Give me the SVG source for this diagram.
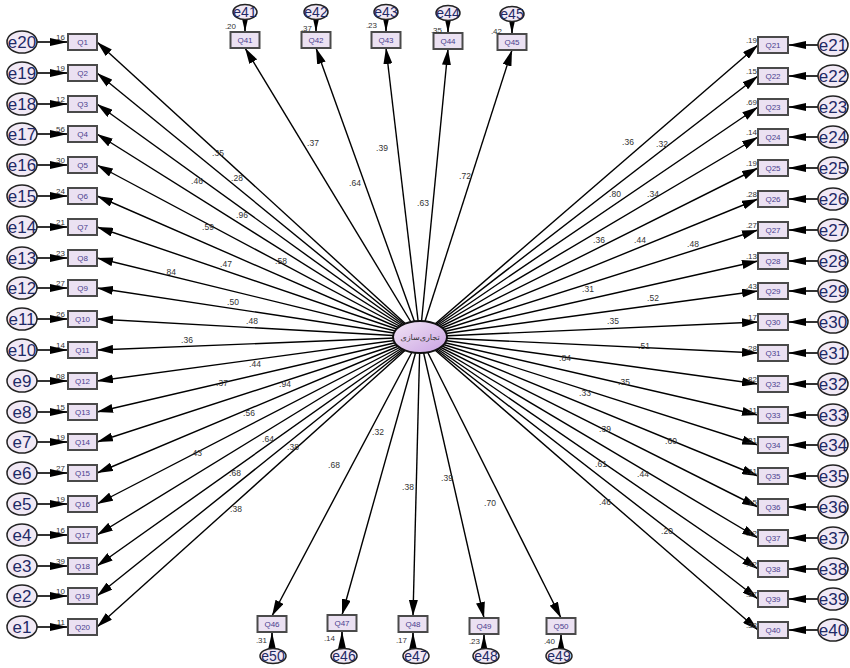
<svg xmlns="http://www.w3.org/2000/svg" width="850" height="668" viewBox="0 0 850 668">
<style>
.q{fill:#ebe1f2;stroke:#4a4a4a;stroke-width:2}
.qt{font-family:"Liberation Sans",Arial,sans-serif;font-size:8px;fill:#4a3f8f;text-anchor:middle}
.e{fill:#f1e9f5;stroke:#222;stroke-width:1.5}
.et{font-family:"Liberation Sans",Arial,sans-serif;font-size:17px;fill:#1f2a66;text-anchor:middle}
.ets{font-family:"Liberation Sans",Arial,sans-serif;font-size:14px;fill:#1f2a66;text-anchor:middle}
.c{stroke:#000;stroke-width:1.4;fill:none;marker-end:url(#ah)}
.ec{stroke:#000;stroke-width:1.6;fill:none;marker-end:url(#ah2)}
.l{font-family:"Liberation Sans",Arial,sans-serif;font-size:8.5px;fill:#333;text-anchor:middle}
.v{font-family:"Liberation Sans",Arial,sans-serif;font-size:8px;fill:#333;text-anchor:end}
</style>
<defs>
<marker id="ah" markerWidth="16" markerHeight="9" refX="16" refY="4.5" orient="auto" markerUnits="userSpaceOnUse"><path d="M0,0 L16,4.5 L0,9 Z" fill="#000"/></marker>
<marker id="ah2" markerWidth="18" markerHeight="8" refX="18" refY="4" orient="auto" markerUnits="userSpaceOnUse"><path d="M0,0 L18,4 L0,8 Z" fill="#000"/></marker>
<linearGradient id="cg" x1="0" y1="0" x2="1" y2="1"><stop offset="0" stop-color="#f3e6f5"/><stop offset="1" stop-color="#c9a2e3"/></linearGradient>
</defs>
<rect width="850" height="668" fill="#fff"/>
<g id="connectors">
<line class="c" x1="420" y1="337" x2="97" y2="42"/>
<line class="c" x1="420" y1="337" x2="97" y2="73"/>
<line class="c" x1="420" y1="337" x2="97" y2="104"/>
<line class="c" x1="420" y1="337" x2="97" y2="134"/>
<line class="c" x1="420" y1="337" x2="97" y2="165"/>
<line class="c" x1="420" y1="337" x2="97" y2="196"/>
<line class="c" x1="420" y1="337" x2="97" y2="227"/>
<line class="c" x1="420" y1="337" x2="97" y2="258"/>
<line class="c" x1="420" y1="337" x2="97" y2="288"/>
<line class="c" x1="420" y1="337" x2="97" y2="319"/>
<line class="c" x1="420" y1="337" x2="97" y2="350"/>
<line class="c" x1="420" y1="337" x2="97" y2="381"/>
<line class="c" x1="420" y1="337" x2="97" y2="412"/>
<line class="c" x1="420" y1="337" x2="97" y2="442"/>
<line class="c" x1="420" y1="337" x2="97" y2="473"/>
<line class="c" x1="420" y1="337" x2="97" y2="504"/>
<line class="c" x1="420" y1="337" x2="97" y2="535"/>
<line class="c" x1="420" y1="337" x2="97" y2="566"/>
<line class="c" x1="420" y1="337" x2="97" y2="596"/>
<line class="c" x1="420" y1="337" x2="97" y2="627"/>
<line class="c" x1="420" y1="337" x2="758" y2="45"/>
<line class="c" x1="420" y1="337" x2="758" y2="76"/>
<line class="c" x1="420" y1="337" x2="758" y2="107"/>
<line class="c" x1="420" y1="337" x2="758" y2="137"/>
<line class="c" x1="420" y1="337" x2="758" y2="168"/>
<line class="c" x1="420" y1="337" x2="758" y2="199"/>
<line class="c" x1="420" y1="337" x2="758" y2="230"/>
<line class="c" x1="420" y1="337" x2="758" y2="261"/>
<line class="c" x1="420" y1="337" x2="758" y2="291"/>
<line class="c" x1="420" y1="337" x2="758" y2="322"/>
<line class="c" x1="420" y1="337" x2="758" y2="353"/>
<line class="c" x1="420" y1="337" x2="758" y2="384"/>
<line class="c" x1="420" y1="337" x2="758" y2="415"/>
<line class="c" x1="420" y1="337" x2="758" y2="445"/>
<line class="c" x1="420" y1="337" x2="758" y2="476"/>
<line class="c" x1="420" y1="337" x2="758" y2="507"/>
<line class="c" x1="420" y1="337" x2="758" y2="538"/>
<line class="c" x1="420" y1="337" x2="758" y2="569"/>
<line class="c" x1="420" y1="337" x2="758" y2="599"/>
<line class="c" x1="420" y1="337" x2="758" y2="630"/>
<line class="c" x1="420" y1="337" x2="245" y2="48"/>
<line class="c" x1="420" y1="337" x2="316" y2="48"/>
<line class="c" x1="420" y1="337" x2="386" y2="48"/>
<line class="c" x1="420" y1="337" x2="448" y2="49"/>
<line class="c" x1="420" y1="337" x2="512" y2="50"/>
<line class="c" x1="420" y1="337" x2="272" y2="616"/>
<line class="c" x1="420" y1="337" x2="342" y2="615"/>
<line class="c" x1="420" y1="337" x2="413" y2="616"/>
<line class="c" x1="420" y1="337" x2="484" y2="618"/>
<line class="c" x1="420" y1="337" x2="561" y2="618"/>
<line class="ec" x1="37" y1="42" x2="68" y2="42"/>
<line class="ec" x1="37" y1="73" x2="68" y2="73"/>
<line class="ec" x1="37" y1="104" x2="68" y2="104"/>
<line class="ec" x1="37" y1="134" x2="68" y2="134"/>
<line class="ec" x1="37" y1="165" x2="68" y2="165"/>
<line class="ec" x1="37" y1="196" x2="68" y2="196"/>
<line class="ec" x1="37" y1="227" x2="68" y2="227"/>
<line class="ec" x1="37" y1="258" x2="68" y2="258"/>
<line class="ec" x1="37" y1="288" x2="68" y2="288"/>
<line class="ec" x1="37" y1="319" x2="68" y2="319"/>
<line class="ec" x1="37" y1="350" x2="68" y2="350"/>
<line class="ec" x1="37" y1="381" x2="68" y2="381"/>
<line class="ec" x1="37" y1="412" x2="68" y2="412"/>
<line class="ec" x1="37" y1="442" x2="68" y2="442"/>
<line class="ec" x1="37" y1="473" x2="68" y2="473"/>
<line class="ec" x1="37" y1="504" x2="68" y2="504"/>
<line class="ec" x1="37" y1="535" x2="68" y2="535"/>
<line class="ec" x1="37" y1="566" x2="68" y2="566"/>
<line class="ec" x1="37" y1="596" x2="68" y2="596"/>
<line class="ec" x1="37" y1="627" x2="68" y2="627"/>
<line class="ec" x1="818" y1="45" x2="788" y2="45"/>
<line class="ec" x1="818" y1="76" x2="788" y2="76"/>
<line class="ec" x1="818" y1="107" x2="788" y2="107"/>
<line class="ec" x1="818" y1="137" x2="788" y2="137"/>
<line class="ec" x1="818" y1="168" x2="788" y2="168"/>
<line class="ec" x1="818" y1="199" x2="788" y2="199"/>
<line class="ec" x1="818" y1="230" x2="788" y2="230"/>
<line class="ec" x1="818" y1="261" x2="788" y2="261"/>
<line class="ec" x1="818" y1="291" x2="788" y2="291"/>
<line class="ec" x1="818" y1="322" x2="788" y2="322"/>
<line class="ec" x1="818" y1="353" x2="788" y2="353"/>
<line class="ec" x1="818" y1="384" x2="788" y2="384"/>
<line class="ec" x1="818" y1="415" x2="788" y2="415"/>
<line class="ec" x1="818" y1="445" x2="788" y2="445"/>
<line class="ec" x1="818" y1="476" x2="788" y2="476"/>
<line class="ec" x1="818" y1="507" x2="788" y2="507"/>
<line class="ec" x1="818" y1="538" x2="788" y2="538"/>
<line class="ec" x1="818" y1="569" x2="788" y2="569"/>
<line class="ec" x1="818" y1="599" x2="788" y2="599"/>
<line class="ec" x1="818" y1="630" x2="788" y2="630"/>
<line class="ec" x1="245" y1="19" x2="245" y2="32"/>
<line class="ec" x1="316" y1="19" x2="316" y2="32"/>
<line class="ec" x1="386" y1="19" x2="386" y2="32"/>
<line class="ec" x1="448" y1="20" x2="448" y2="33"/>
<line class="ec" x1="512" y1="21" x2="512" y2="34"/>
<line class="ec" x1="272" y1="649" x2="272" y2="632"/>
<line class="ec" x1="342" y1="649" x2="342" y2="631"/>
<line class="ec" x1="413" y1="649" x2="413" y2="632"/>
<line class="ec" x1="484" y1="649" x2="484" y2="634"/>
<line class="ec" x1="561" y1="649" x2="561" y2="634"/>
</g>
<g id="path-labels">
<text class="l" x="218" y="156">.35</text>
<text class="l" x="237" y="181">.28</text>
<text class="l" x="197" y="184">.46</text>
<text class="l" x="242" y="218">.96</text>
<text class="l" x="208" y="230">.59</text>
<text class="l" x="226" y="267">.47</text>
<text class="l" x="281" y="264">.58</text>
<text class="l" x="170" y="275">.84</text>
<text class="l" x="233" y="305">.50</text>
<text class="l" x="252" y="324">.48</text>
<text class="l" x="187" y="343">.36</text>
<text class="l" x="255" y="367">.44</text>
<text class="l" x="222" y="386">.37</text>
<text class="l" x="285" y="387">.94</text>
<text class="l" x="249" y="416">.56</text>
<text class="l" x="268" y="442">.64</text>
<text class="l" x="293" y="450">.38</text>
<text class="l" x="196" y="456">.43</text>
<text class="l" x="235" y="476">.68</text>
<text class="l" x="334" y="468">.68</text>
<text class="l" x="236" y="512">.38</text>
<text class="l" x="378" y="435">.32</text>
<text class="l" x="408" y="490">.38</text>
<text class="l" x="447" y="481">.39</text>
<text class="l" x="490" y="506">.70</text>
<text class="l" x="313" y="146">.37</text>
<text class="l" x="355" y="186">.64</text>
<text class="l" x="382" y="151">.39</text>
<text class="l" x="423" y="206">.63</text>
<text class="l" x="465" y="179">.72</text>
<text class="l" x="628" y="145">.36</text>
<text class="l" x="662" y="147">.32</text>
<text class="l" x="615" y="197">.80</text>
<text class="l" x="653" y="197">.34</text>
<text class="l" x="599" y="243">.36</text>
<text class="l" x="640" y="243">.44</text>
<text class="l" x="693" y="247">.48</text>
<text class="l" x="588" y="292">.31</text>
<text class="l" x="653" y="301">.52</text>
<text class="l" x="613" y="324">.35</text>
<text class="l" x="644" y="349">.51</text>
<text class="l" x="565" y="361">.84</text>
<text class="l" x="624" y="385">.35</text>
<text class="l" x="585" y="396">.33</text>
<text class="l" x="605" y="432">.39</text>
<text class="l" x="671" y="444">.60</text>
<text class="l" x="601" y="467">.61</text>
<text class="l" x="643" y="477">.44</text>
<text class="l" x="605" y="505">.46</text>
<text class="l" x="667" y="534">.20</text>
</g>
<g id="center"><ellipse cx="420" cy="337" rx="27" ry="16" fill="url(#cg)" stroke="#111" stroke-width="2"/><text x="420" y="340" font-family="'DejaVu Sans',sans-serif" font-size="8" fill="#333" text-anchor="middle">تجاری‌سازی</text></g>
<g id="Q1"><rect class="q" x="68" y="34" width="29" height="16"/><text class="qt" x="82.5" y="45">Q1</text><text class="v" x="65" y="40">.16</text></g>
<g id="Q2"><rect class="q" x="68" y="65" width="29" height="16"/><text class="qt" x="82.5" y="76">Q2</text><text class="v" x="65" y="71">.19</text></g>
<g id="Q3"><rect class="q" x="68" y="96" width="29" height="16"/><text class="qt" x="82.5" y="107">Q3</text><text class="v" x="65" y="102">.12</text></g>
<g id="Q4"><rect class="q" x="68" y="126" width="29" height="16"/><text class="qt" x="82.5" y="137">Q4</text><text class="v" x="65" y="132">.56</text></g>
<g id="Q5"><rect class="q" x="68" y="157" width="29" height="16"/><text class="qt" x="82.5" y="168">Q5</text><text class="v" x="65" y="163">.30</text></g>
<g id="Q6"><rect class="q" x="68" y="188" width="29" height="16"/><text class="qt" x="82.5" y="199">Q6</text><text class="v" x="65" y="194">.24</text></g>
<g id="Q7"><rect class="q" x="68" y="219" width="29" height="16"/><text class="qt" x="82.5" y="230">Q7</text><text class="v" x="65" y="225">.21</text></g>
<g id="Q8"><rect class="q" x="68" y="250" width="29" height="16"/><text class="qt" x="82.5" y="261">Q8</text><text class="v" x="65" y="256">.23</text></g>
<g id="Q9"><rect class="q" x="68" y="280" width="29" height="16"/><text class="qt" x="82.5" y="291">Q9</text><text class="v" x="65" y="286">.27</text></g>
<g id="Q10"><rect class="q" x="68" y="311" width="29" height="16"/><text class="qt" x="82.5" y="322">Q10</text><text class="v" x="65" y="317">.26</text></g>
<g id="Q11"><rect class="q" x="68" y="342" width="29" height="16"/><text class="qt" x="82.5" y="353">Q11</text><text class="v" x="65" y="348">.14</text></g>
<g id="Q12"><rect class="q" x="68" y="373" width="29" height="16"/><text class="qt" x="82.5" y="384">Q12</text><text class="v" x="65" y="379">.08</text></g>
<g id="Q13"><rect class="q" x="68" y="404" width="29" height="16"/><text class="qt" x="82.5" y="415">Q13</text><text class="v" x="65" y="410">.15</text></g>
<g id="Q14"><rect class="q" x="68" y="434" width="29" height="16"/><text class="qt" x="82.5" y="445">Q14</text><text class="v" x="65" y="440">.19</text></g>
<g id="Q15"><rect class="q" x="68" y="465" width="29" height="16"/><text class="qt" x="82.5" y="476">Q15</text><text class="v" x="65" y="471">.27</text></g>
<g id="Q16"><rect class="q" x="68" y="496" width="29" height="16"/><text class="qt" x="82.5" y="507">Q16</text><text class="v" x="65" y="502">.19</text></g>
<g id="Q17"><rect class="q" x="68" y="527" width="29" height="16"/><text class="qt" x="82.5" y="538">Q17</text><text class="v" x="65" y="533">.16</text></g>
<g id="Q18"><rect class="q" x="68" y="558" width="29" height="16"/><text class="qt" x="82.5" y="569">Q18</text><text class="v" x="65" y="564">.39</text></g>
<g id="Q19"><rect class="q" x="68" y="588" width="29" height="16"/><text class="qt" x="82.5" y="599">Q19</text><text class="v" x="65" y="594">.10</text></g>
<g id="Q20"><rect class="q" x="68" y="619" width="29" height="16"/><text class="qt" x="82.5" y="630">Q20</text><text class="v" x="65" y="625">.11</text></g>
<g id="Q21"><rect class="q" x="758" y="37" width="30" height="16"/><text class="qt" x="773" y="48">Q21</text><text class="v" x="757" y="43">.19</text></g>
<g id="Q22"><rect class="q" x="758" y="68" width="30" height="16"/><text class="qt" x="773" y="79">Q22</text><text class="v" x="757" y="74">.15</text></g>
<g id="Q23"><rect class="q" x="758" y="99" width="30" height="16"/><text class="qt" x="773" y="110">Q23</text><text class="v" x="757" y="105">.69</text></g>
<g id="Q24"><rect class="q" x="758" y="129" width="30" height="16"/><text class="qt" x="773" y="140">Q24</text><text class="v" x="757" y="135">.14</text></g>
<g id="Q25"><rect class="q" x="758" y="160" width="30" height="16"/><text class="qt" x="773" y="171">Q25</text><text class="v" x="757" y="166">.19</text></g>
<g id="Q26"><rect class="q" x="758" y="191" width="30" height="16"/><text class="qt" x="773" y="202">Q26</text><text class="v" x="757" y="197">.28</text></g>
<g id="Q27"><rect class="q" x="758" y="222" width="30" height="16"/><text class="qt" x="773" y="233">Q27</text><text class="v" x="757" y="228">.27</text></g>
<g id="Q28"><rect class="q" x="758" y="253" width="30" height="16"/><text class="qt" x="773" y="264">Q28</text><text class="v" x="757" y="259">.13</text></g>
<g id="Q29"><rect class="q" x="758" y="283" width="30" height="16"/><text class="qt" x="773" y="294">Q29</text><text class="v" x="757" y="289">.43</text></g>
<g id="Q30"><rect class="q" x="758" y="314" width="30" height="16"/><text class="qt" x="773" y="325">Q30</text><text class="v" x="757" y="320">.17</text></g>
<g id="Q31"><rect class="q" x="758" y="345" width="30" height="16"/><text class="qt" x="773" y="356">Q31</text><text class="v" x="757" y="351">.28</text></g>
<g id="Q32"><rect class="q" x="758" y="376" width="30" height="16"/><text class="qt" x="773" y="387">Q32</text><text class="v" x="757" y="382">.82</text></g>
<g id="Q33"><rect class="q" x="758" y="407" width="30" height="16"/><text class="qt" x="773" y="418">Q33</text><text class="v" x="757" y="413">.11</text></g>
<g id="Q34"><rect class="q" x="758" y="437" width="30" height="16"/><text class="qt" x="773" y="448">Q34</text><text class="v" x="757" y="443">.31</text></g>
<g id="Q35"><rect class="q" x="758" y="468" width="30" height="16"/><text class="qt" x="773" y="479">Q35</text><text class="v" x="757" y="474">.11</text></g>
<g id="Q36"><rect class="q" x="758" y="499" width="30" height="16"/><text class="qt" x="773" y="510">Q36</text><text class="v" x="757" y="505">.15</text></g>
<g id="Q37"><rect class="q" x="758" y="530" width="30" height="16"/><text class="qt" x="773" y="541">Q37</text><text class="v" x="757" y="536">.12</text></g>
<g id="Q38"><rect class="q" x="758" y="561" width="30" height="16"/><text class="qt" x="773" y="572">Q38</text><text class="v" x="757" y="567">.42</text></g>
<g id="Q39"><rect class="q" x="758" y="591" width="30" height="16"/><text class="qt" x="773" y="602">Q39</text><text class="v" x="757" y="597">.37</text></g>
<g id="Q40"><rect class="q" x="758" y="622" width="30" height="16"/><text class="qt" x="773" y="633">Q40</text><text class="v" x="757" y="628">.38</text></g>
<g id="Q41"><rect class="q" x="230.5" y="32" width="29" height="16"/><text class="qt" x="245" y="43">Q41</text><text class="v" x="236" y="29">.20</text></g>
<g id="Q42"><rect class="q" x="301.5" y="32" width="29" height="16"/><text class="qt" x="316" y="43">Q42</text><text class="v" x="312" y="31">.37</text></g>
<g id="Q43"><rect class="q" x="371.5" y="32" width="29" height="16"/><text class="qt" x="386" y="43">Q43</text><text class="v" x="377" y="28">.23</text></g>
<g id="Q44"><rect class="q" x="433.5" y="33" width="29" height="16"/><text class="qt" x="448" y="44">Q44</text><text class="v" x="442" y="33">.35</text></g>
<g id="Q45"><rect class="q" x="497.5" y="34" width="29" height="16"/><text class="qt" x="512" y="45">Q45</text><text class="v" x="502" y="34">.42</text></g>
<g id="Q46"><rect class="q" x="257.5" y="616" width="29" height="16"/><text class="qt" x="272" y="627">Q46</text><text class="v" x="267" y="643">.31</text></g>
<g id="Q47"><rect class="q" x="327.5" y="615" width="29" height="16"/><text class="qt" x="342" y="626">Q47</text><text class="v" x="335" y="641">.14</text></g>
<g id="Q48"><rect class="q" x="398.5" y="616" width="29" height="16"/><text class="qt" x="413" y="627">Q48</text><text class="v" x="407" y="643">.17</text></g>
<g id="Q49"><rect class="q" x="469.5" y="618" width="29" height="16"/><text class="qt" x="484" y="629">Q49</text><text class="v" x="480" y="644">.23</text></g>
<g id="Q50"><rect class="q" x="546.5" y="618" width="29" height="16"/><text class="qt" x="561" y="629">Q50</text><text class="v" x="555" y="644">.40</text></g>
<g id="e20"><ellipse class="e" cx="22" cy="42" rx="15" ry="11"/><text class="et" x="22" y="48">e20</text></g>
<g id="e19"><ellipse class="e" cx="22" cy="73" rx="15" ry="11"/><text class="et" x="22" y="79">e19</text></g>
<g id="e18"><ellipse class="e" cx="22" cy="104" rx="15" ry="11"/><text class="et" x="22" y="110">e18</text></g>
<g id="e17"><ellipse class="e" cx="22" cy="134" rx="15" ry="11"/><text class="et" x="22" y="140">e17</text></g>
<g id="e16"><ellipse class="e" cx="22" cy="165" rx="15" ry="11"/><text class="et" x="22" y="171">e16</text></g>
<g id="e15"><ellipse class="e" cx="22" cy="196" rx="15" ry="11"/><text class="et" x="22" y="202">e15</text></g>
<g id="e14"><ellipse class="e" cx="22" cy="227" rx="15" ry="11"/><text class="et" x="22" y="233">e14</text></g>
<g id="e13"><ellipse class="e" cx="22" cy="258" rx="15" ry="11"/><text class="et" x="22" y="264">e13</text></g>
<g id="e12"><ellipse class="e" cx="22" cy="288" rx="15" ry="11"/><text class="et" x="22" y="294">e12</text></g>
<g id="e11"><ellipse class="e" cx="22" cy="319" rx="15" ry="11"/><text class="et" x="22" y="325">e11</text></g>
<g id="e10"><ellipse class="e" cx="22" cy="350" rx="15" ry="11"/><text class="et" x="22" y="356">e10</text></g>
<g id="e9"><ellipse class="e" cx="22" cy="381" rx="15" ry="11"/><text class="et" x="22" y="387">e9</text></g>
<g id="e8"><ellipse class="e" cx="22" cy="412" rx="15" ry="11"/><text class="et" x="22" y="418">e8</text></g>
<g id="e7"><ellipse class="e" cx="22" cy="442" rx="15" ry="11"/><text class="et" x="22" y="448">e7</text></g>
<g id="e6"><ellipse class="e" cx="22" cy="473" rx="15" ry="11"/><text class="et" x="22" y="479">e6</text></g>
<g id="e5"><ellipse class="e" cx="22" cy="504" rx="15" ry="11"/><text class="et" x="22" y="510">e5</text></g>
<g id="e4"><ellipse class="e" cx="22" cy="535" rx="15" ry="11"/><text class="et" x="22" y="541">e4</text></g>
<g id="e3"><ellipse class="e" cx="22" cy="566" rx="15" ry="11"/><text class="et" x="22" y="572">e3</text></g>
<g id="e2"><ellipse class="e" cx="22" cy="596" rx="15" ry="11"/><text class="et" x="22" y="602">e2</text></g>
<g id="e1"><ellipse class="e" cx="22" cy="627" rx="15" ry="11"/><text class="et" x="22" y="633">e1</text></g>
<g id="e21"><ellipse class="e" cx="833" cy="45" rx="15" ry="11"/><text class="et" x="833" y="51">e21</text></g>
<g id="e22"><ellipse class="e" cx="833" cy="76" rx="15" ry="11"/><text class="et" x="833" y="82">e22</text></g>
<g id="e23"><ellipse class="e" cx="833" cy="107" rx="15" ry="11"/><text class="et" x="833" y="113">e23</text></g>
<g id="e24"><ellipse class="e" cx="833" cy="137" rx="15" ry="11"/><text class="et" x="833" y="143">e24</text></g>
<g id="e25"><ellipse class="e" cx="833" cy="168" rx="15" ry="11"/><text class="et" x="833" y="174">e25</text></g>
<g id="e26"><ellipse class="e" cx="833" cy="199" rx="15" ry="11"/><text class="et" x="833" y="205">e26</text></g>
<g id="e27"><ellipse class="e" cx="833" cy="230" rx="15" ry="11"/><text class="et" x="833" y="236">e27</text></g>
<g id="e28"><ellipse class="e" cx="833" cy="261" rx="15" ry="11"/><text class="et" x="833" y="267">e28</text></g>
<g id="e29"><ellipse class="e" cx="833" cy="291" rx="15" ry="11"/><text class="et" x="833" y="297">e29</text></g>
<g id="e30"><ellipse class="e" cx="833" cy="322" rx="15" ry="11"/><text class="et" x="833" y="328">e30</text></g>
<g id="e31"><ellipse class="e" cx="833" cy="353" rx="15" ry="11"/><text class="et" x="833" y="359">e31</text></g>
<g id="e32"><ellipse class="e" cx="833" cy="384" rx="15" ry="11"/><text class="et" x="833" y="390">e32</text></g>
<g id="e33"><ellipse class="e" cx="833" cy="415" rx="15" ry="11"/><text class="et" x="833" y="421">e33</text></g>
<g id="e34"><ellipse class="e" cx="833" cy="445" rx="15" ry="11"/><text class="et" x="833" y="451">e34</text></g>
<g id="e35"><ellipse class="e" cx="833" cy="476" rx="15" ry="11"/><text class="et" x="833" y="482">e35</text></g>
<g id="e36"><ellipse class="e" cx="833" cy="507" rx="15" ry="11"/><text class="et" x="833" y="513">e36</text></g>
<g id="e37"><ellipse class="e" cx="833" cy="538" rx="15" ry="11"/><text class="et" x="833" y="544">e37</text></g>
<g id="e38"><ellipse class="e" cx="833" cy="569" rx="15" ry="11"/><text class="et" x="833" y="575">e38</text></g>
<g id="e39"><ellipse class="e" cx="833" cy="599" rx="15" ry="11"/><text class="et" x="833" y="605">e39</text></g>
<g id="e40"><ellipse class="e" cx="833" cy="630" rx="15" ry="11"/><text class="et" x="833" y="636">e40</text></g>
<g id="e41"><ellipse class="e" cx="245" cy="12" rx="12" ry="7.5"/><text class="ets" x="245" y="17">e41</text></g>
<g id="e42"><ellipse class="e" cx="316" cy="12" rx="12" ry="7.5"/><text class="ets" x="316" y="17">e42</text></g>
<g id="e43"><ellipse class="e" cx="386" cy="12" rx="12" ry="7.5"/><text class="ets" x="386" y="17">e43</text></g>
<g id="e44"><ellipse class="e" cx="448" cy="13" rx="12" ry="7.5"/><text class="ets" x="448" y="18">e44</text></g>
<g id="e45"><ellipse class="e" cx="512" cy="14" rx="12" ry="7.5"/><text class="ets" x="512" y="19">e45</text></g>
<g id="e50"><ellipse class="e" cx="273" cy="656" rx="13" ry="7.5"/><text class="ets" x="273" y="661">e50</text></g>
<g id="e46"><ellipse class="e" cx="344" cy="656" rx="13" ry="7.5"/><text class="ets" x="344" y="661">e46</text></g>
<g id="e47"><ellipse class="e" cx="416" cy="656" rx="13" ry="7.5"/><text class="ets" x="416" y="661">e47</text></g>
<g id="e48"><ellipse class="e" cx="486" cy="656" rx="13" ry="7.5"/><text class="ets" x="486" y="661">e48</text></g>
<g id="e49"><ellipse class="e" cx="559" cy="656" rx="13" ry="7.5"/><text class="ets" x="559" y="661">e49</text></g>
</svg>
